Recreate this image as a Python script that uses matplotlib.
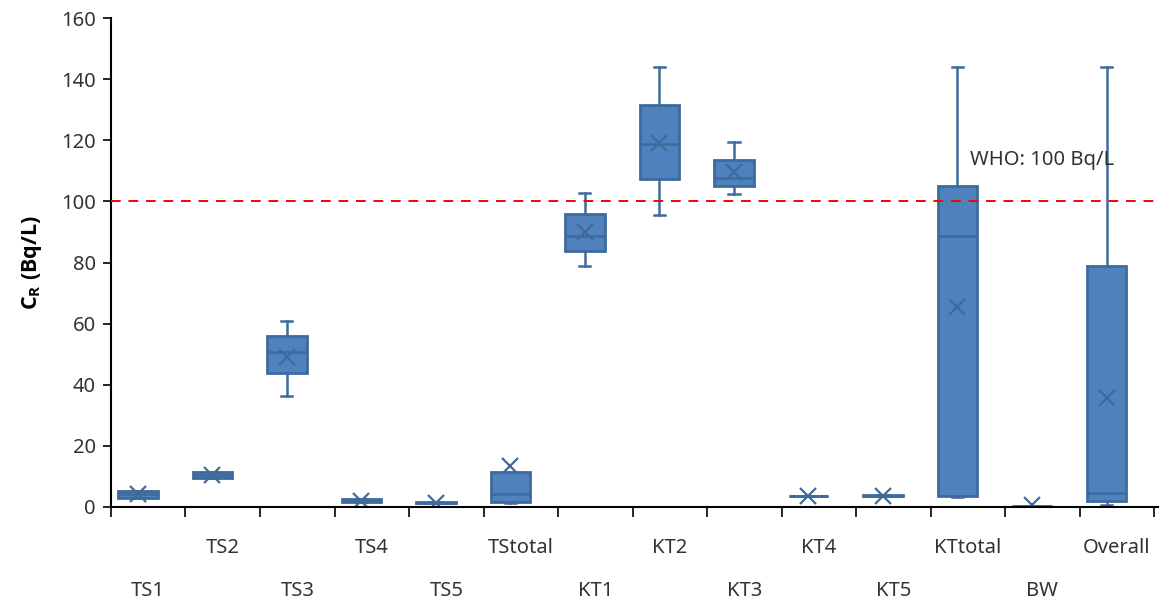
import numpy as np
from matplotlib import pyplot as plt

# data (Bq/L)
sites = ['TS1', 'TS2', 'TS3', 'TS4', 'TS5', 'TStotal', 'KT1', 'KT2', 'KT3',
         'KT4', 'KT5', 'KTtotal', 'BW', 'Overall']
q1 = [3.0, 9.6, 43.7, 1.6, 1.3, 1.7, 83.8, 107.2, 105.0, 3.7, 3.6, 3.6, 0.3, 2.1]
med = [4.2, 10.6, 50.8, 2.1, 1.4, 4.4, 88.8, 118.8, 107.6, 3.7, 3.7, 88.7, 0.3, 4.5]
q3 = [5.2, 11.6, 56.1, 2.5, 1.6, 11.4, 95.8, 131.4, 113.5, 3.7, 3.8, 105.0, 0.3, 78.9]
low = [3.0, 9.6, 36.4, 1.6, 1.3, 1.2, 78.9, 95.7, 102.4, 3.7, 3.6, 3.3, 0.3, 0.65]
high = [5.2, 11.6, 61.0, 2.5, 1.6, 11.4, 102.6, 144.0, 119.3, 3.7, 3.8, 144.0, 0.3, 144.0]
mean = [4.2, 10.6, 49.2, 2.0, 1.4, 13.5, 90.1, 119.2, 109.5, 3.7, 3.7, 65.3, 0.6, 35.8]
who_limit = 100

fill_col = '#4F81BD'
edge_col = '#3E6A9C'

plt.rcParams['font.family'] = ['Noto Sans', 'DejaVu Sans']

fig = plt.figure(figsize=(11.62, 6.0), dpi=100)
ax = fig.add_axes([0.0955, 0.155, 0.901, 0.815])

stats = []
for i in range(len(sites)):
    stats.append(dict(label=sites[i], q1=q1[i], med=med[i], q3=q3[i],
                      whislo=low[i], whishi=high[i], mean=mean[i], fliers=[]))

pos = np.arange(len(sites)) - 0.14
ax.bxp(stats, positions=pos, widths=0.53, capwidths=0.15, patch_artist=True,
       showmeans=True, showfliers=False, manage_ticks=False,
       boxprops=dict(facecolor=fill_col, edgecolor=edge_col, linewidth=2),
       medianprops=dict(color=edge_col, linewidth=1.8),
       whiskerprops=dict(color=edge_col, linewidth=1.8),
       capprops=dict(color=edge_col, linewidth=1.8),
       meanprops=dict(marker='x', markersize=11, markeredgewidth=1.6,
                      markeredgecolor=edge_col, markerfacecolor='none'))

ax.axhline(who_limit, color='red', linestyle=(0, (5, 4)), linewidth=1.4, zorder=5)
ax.text(11.03, 113.5, 'WHO: 100 Bq/L', fontsize=14.5, color='#333333', va='center')

ax.set_xlim(-0.5, len(sites) - 0.45)
ax.set_ylim(0, 160)
ax.set_yticks(range(0, 161, 20))
ax.tick_params(axis='y', direction='out', length=6, width=1.2, labelsize=14.5,
               labelcolor='#333333', pad=5)

ax.set_xticks(np.arange(len(sites)))
ax.set_xticklabels(sites, fontsize=14.5, color='#333333')
ax.set_xticks(np.arange(len(sites) + 1) - 0.5, minor=True)
ax.tick_params(axis='x', which='major', length=0)
ax.tick_params(axis='x', which='minor', direction='out', length=7, width=1.2)
for k, tick in enumerate(ax.xaxis.get_major_ticks()):
    tick.set_pad(53 if k % 2 == 0 else 22)

for s in ['top', 'right']:
    ax.spines[s].set_visible(False)
for s in ['left', 'bottom']:
    ax.spines[s].set_linewidth(1.5)

ax.set_ylabel('C$_\\mathregular{R}$ (Bq/L)', fontsize=15.5, fontweight='bold',
              family=['Open Sans', 'DejaVu Sans'], labelpad=12)

fig.savefig('out.png', dpi=100)
